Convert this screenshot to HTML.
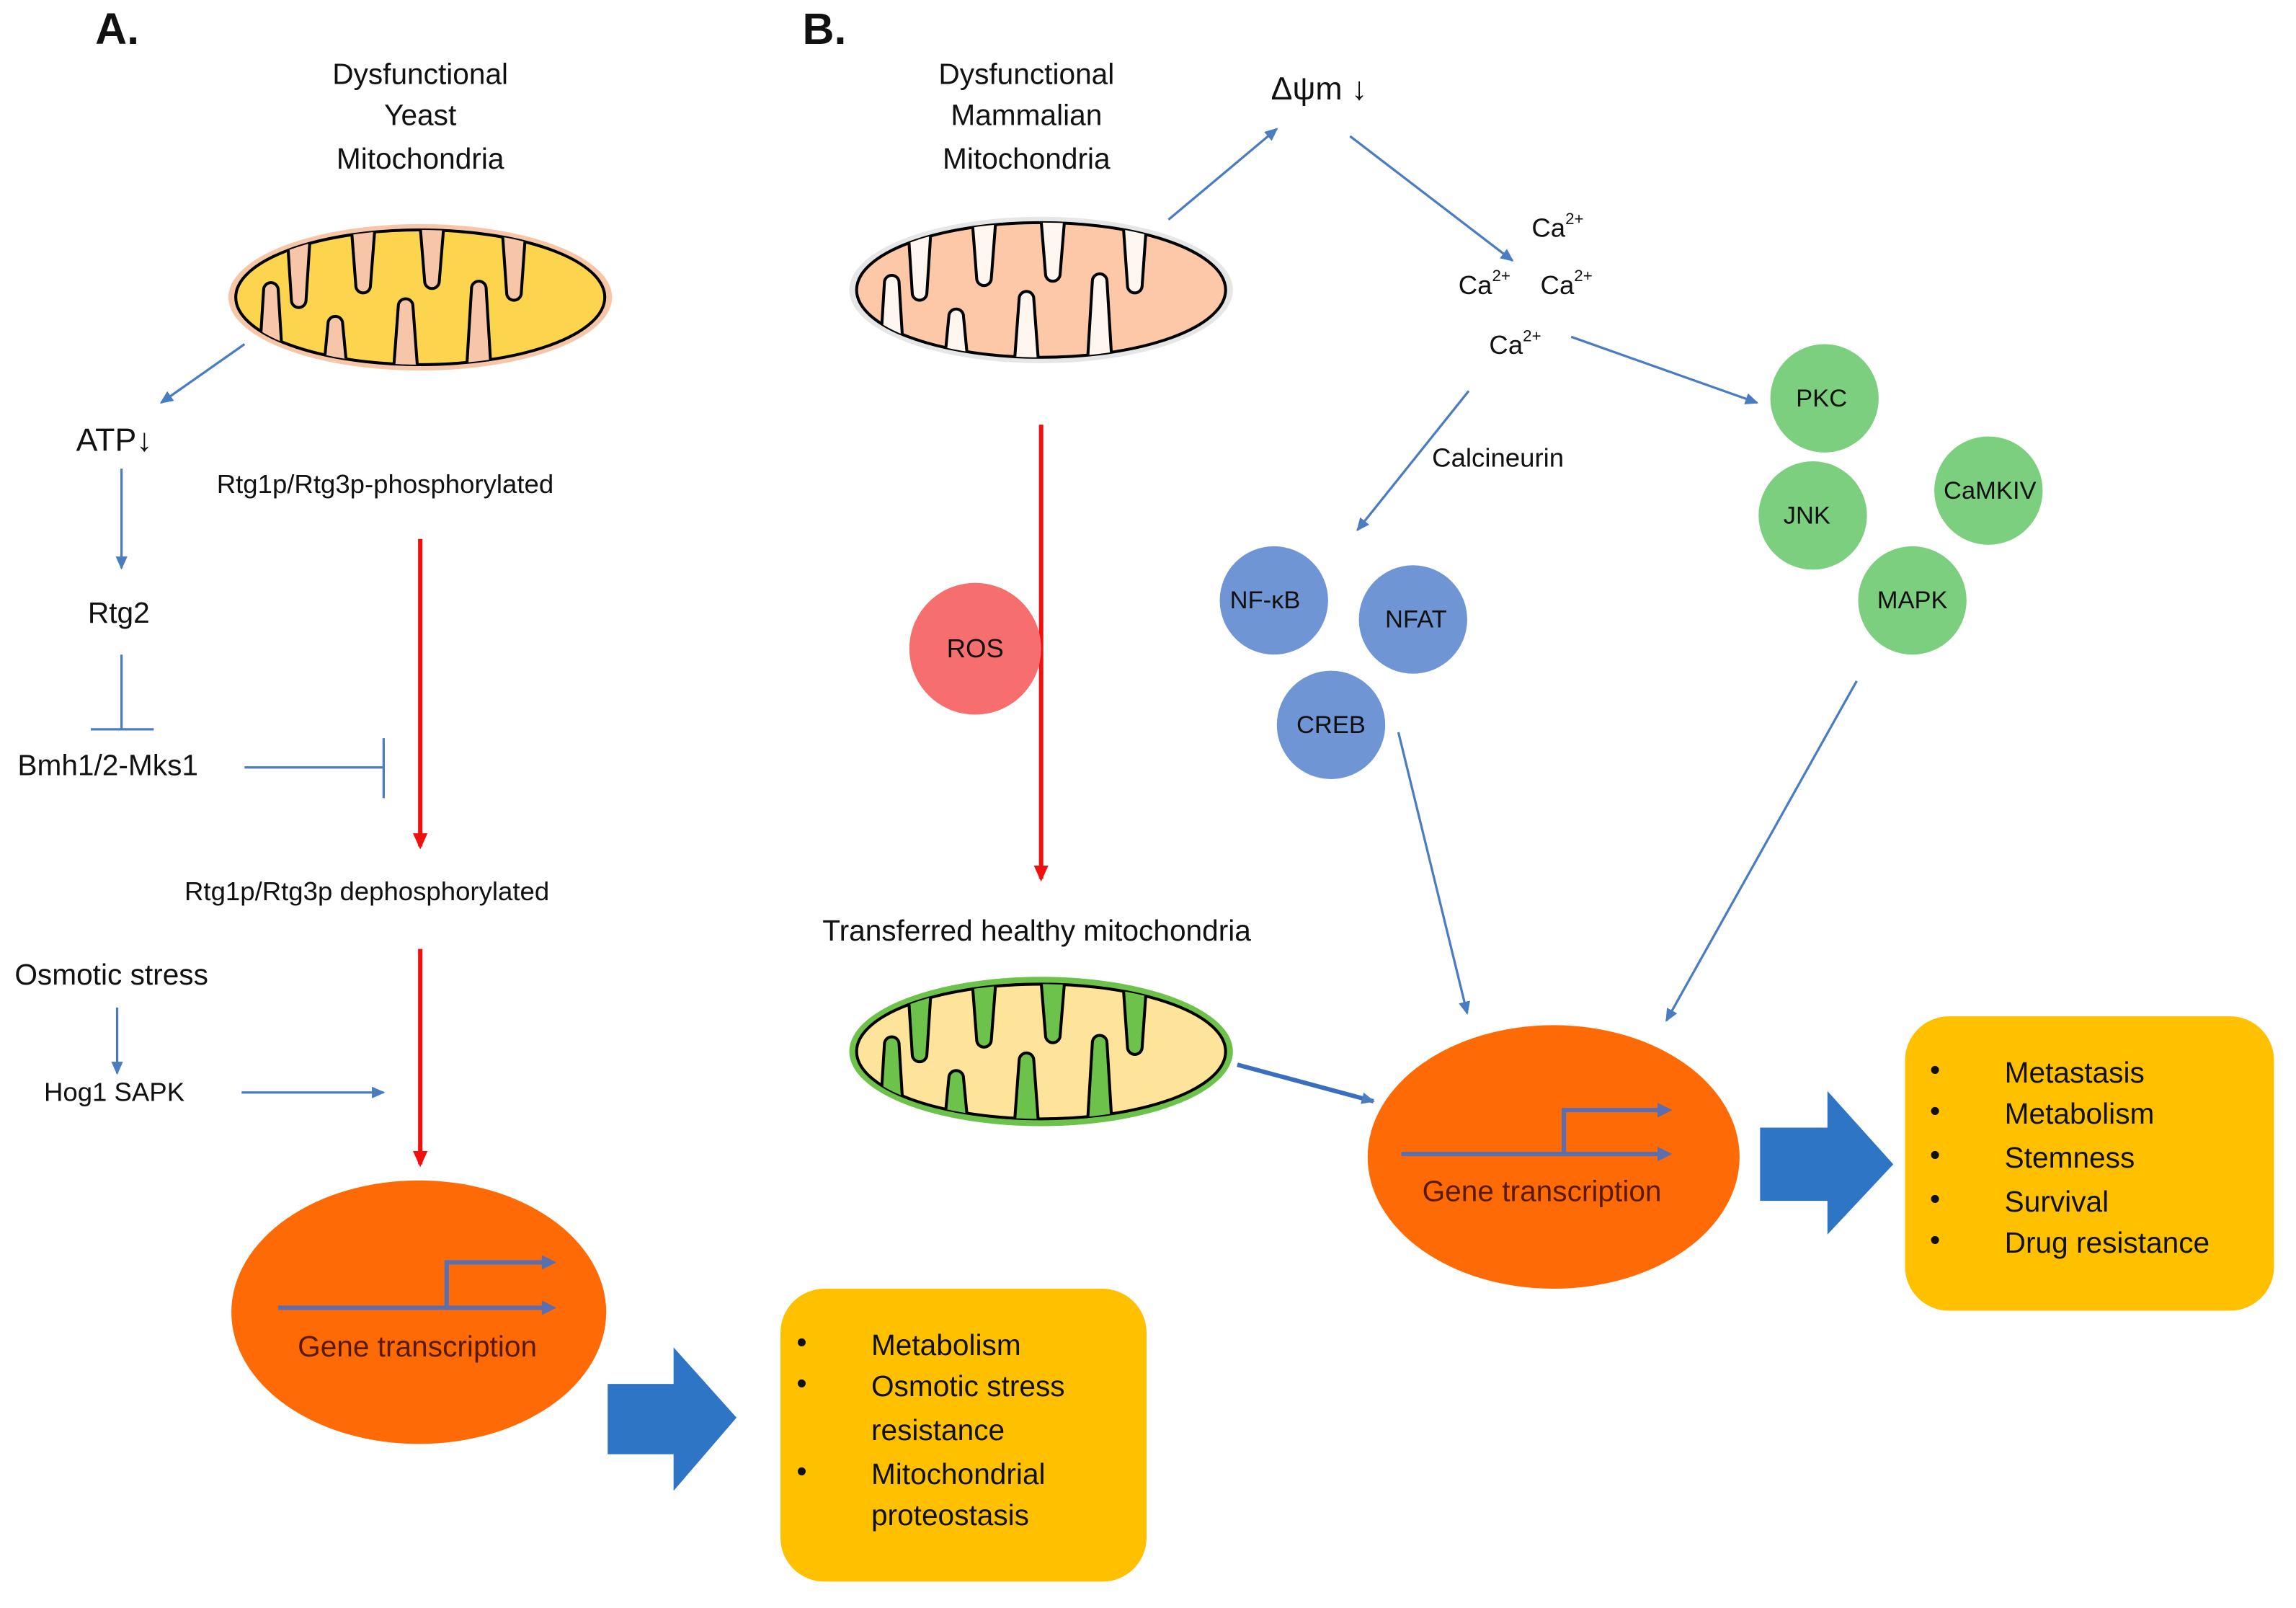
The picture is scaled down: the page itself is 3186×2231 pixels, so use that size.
<!DOCTYPE html>
<html><head><meta charset="utf-8"><style>
html,body{margin:0;padding:0;background:#fff}
svg{display:block}
text{font-family:"Liberation Sans",sans-serif;fill:#111;dominant-baseline:middle}
</style></head><body>
<svg width="3186" height="2231" viewBox="0 0 1568 1098" xmlns="http://www.w3.org/2000/svg">
<defs>
<marker id="ab" markerWidth="10" markerHeight="10" refX="8" refY="5" orient="auto" markerUnits="userSpaceOnUse"><path d="M0,1 L9,5 L0,9 z" fill="#4a7cc0"/></marker>
<marker id="ar" markerWidth="12" markerHeight="12" refX="9" refY="6" orient="auto" markerUnits="userSpaceOnUse"><path d="M0,1 L11,6 L0,11 z" fill="#f01010"/></marker>
<clipPath id="ic"><ellipse cx="0" cy="0" rx="126" ry="46"/></clipPath>
<g id="cr">
<path d="M-92,-60 L-88,2 a5,5 0 0 0 10,0 L-74,-60 z M-48,-60 L-44,-8 a5,5 0 0 0 10,0 L-30,-60 z M-1,-60 L3,-11 a5,5 0 0 0 10,0 L17,-60 z M55,-60 L59,-3 a5,5 0 0 0 10,0 L73,-60 z M-111,60 L-107,-5 a5,5 0 0 1 10,0 L-93,60 z M-67,60 L-63,18 a5,5 0 0 1 10,0 L-49,60 z M-19,60 L-15,6 a5,5 0 0 1 10,0 L-1,60 z M31,60 L35,-6 a5,5 0 0 1 10,0 L49,60 z"/>
</g>
</defs>

<!-- A -->
<text x="65" y="22" font-size="30" font-weight="bold">A.</text>
<text x="287" y="52" font-size="20" text-anchor="middle">Dysfunctional</text>
<text x="287" y="80" font-size="20" text-anchor="middle">Yeast</text>
<text x="287" y="110" font-size="20" text-anchor="middle">Mitochondria</text>

<g transform="translate(287,203)">
<ellipse rx="131" ry="50" fill="#f7c6a8"/>
<ellipse rx="126" ry="46" fill="#fdd44e" stroke="#000" stroke-width="2"/>
<g clip-path="url(#ic)"><use href="#cr" fill="#f7c6a8" stroke="#000" stroke-width="2"/></g>
</g>

<g stroke="#4a7cc0" stroke-width="1.6" fill="none">
<line x1="167" y1="235" x2="110" y2="275" marker-end="url(#ab)"/>
<line x1="83" y1="320" x2="83" y2="388" marker-end="url(#ab)"/>
<line x1="83" y1="447" x2="83" y2="498"/><line x1="62" y1="498" x2="105" y2="498"/>
<line x1="167" y1="524" x2="262" y2="524"/><line x1="262" y1="504" x2="262" y2="545"/>
<line x1="80" y1="688" x2="80" y2="733" marker-end="url(#ab)"/>
<line x1="165" y1="746" x2="262" y2="746" marker-end="url(#ab)"/>
</g>
<text x="52" y="302" font-size="22">ATP↓</text>
<text x="148" y="332" font-size="18">Rtg1p/Rtg3p-phosphorylated</text>
<text x="60" y="420" font-size="20">Rtg2</text>
<text x="12" y="524" font-size="20">Bmh1/2-Mks1</text>
<text x="126" y="610" font-size="18">Rtg1p/Rtg3p dephosphorylated</text>
<text x="10" y="667" font-size="20">Osmotic stress</text>
<text x="30" y="747" font-size="18">Hog1 SAPK</text>
<g stroke="#f01010" stroke-width="3">
<line x1="287" y1="368" x2="287" y2="578" marker-end="url(#ar)"/>
<line x1="287" y1="648" x2="287" y2="795" marker-end="url(#ar)"/>
</g>

<ellipse cx="286" cy="896" rx="128" ry="90" fill="#fe6a06"/>
<g stroke="#5b6fae" stroke-width="3" fill="none">
<line x1="190" y1="893" x2="372" y2="893"/>
<polyline points="305,893 305,862 372,862"/>
</g>
<path d="M370,888 L380,893 L370,898 z M370,857 L380,862 L370,867 z" fill="#5b6fae"/>
<text x="285" y="921" font-size="20" text-anchor="middle" style="fill:#5a1a00">Gene transcription</text>

<path d="M415,945 H460 V920 L503,968 L460,1018 V993 H415 z" fill="#2e75c6"/>
<rect x="533" y="880" width="250" height="200" rx="30" fill="#ffc000"/>
<g font-size="20">
<text x="544" y="918">•</text><text x="595" y="920">Metabolism</text>
<text x="544" y="946">•</text><text x="595" y="948">Osmotic stress</text>
<text x="595" y="978">resistance</text>
<text x="544" y="1006">•</text><text x="595" y="1008">Mitochondrial</text>
<text x="595" y="1036">proteostasis</text>
</g>

<!-- B -->
<text x="548" y="22" font-size="30" font-weight="bold">B.</text>
<text x="701" y="52" font-size="20" text-anchor="middle">Dysfunctional</text>
<text x="701" y="80" font-size="20" text-anchor="middle">Mammalian</text>
<text x="701" y="110" font-size="20" text-anchor="middle">Mitochondria</text>

<g transform="translate(711,198)">
<ellipse rx="131" ry="50" fill="#e6e6e6"/>
<ellipse rx="126" ry="46" fill="#fcc8a8" stroke="#000" stroke-width="2"/>
<g clip-path="url(#ic)"><use href="#cr" fill="#fff6f0" stroke="#000" stroke-width="2"/></g>
</g>

<g stroke="#4a7cc0" stroke-width="1.6" fill="none">
<line x1="798" y1="150" x2="872" y2="88" marker-end="url(#ab)"/>
<line x1="922" y1="93" x2="1033" y2="178" marker-end="url(#ab)"/>
<line x1="1073" y1="230" x2="1200" y2="275" marker-end="url(#ab)"/>
<line x1="1003" y1="267" x2="927" y2="362" marker-end="url(#ab)"/>
<line x1="955" y1="500" x2="1002" y2="692" marker-end="url(#ab)"/>
<line x1="1268" y1="465" x2="1138" y2="697" marker-end="url(#ab)"/>
</g>
<line x1="845" y1="727" x2="938" y2="752" stroke="#3a6fc0" stroke-width="3" marker-end="url(#ab)"/>
<text x="868" y="62" font-size="22">Δψm ↓</text>
<g font-size="18">
<text x="1046" y="157">Ca<tspan font-size="11" dy="-7">2+</tspan></text>
<text x="996" y="196">Ca<tspan font-size="11" dy="-7">2+</tspan></text>
<text x="1052" y="196">Ca<tspan font-size="11" dy="-7">2+</tspan></text>
<text x="1017" y="237">Ca<tspan font-size="11" dy="-7">2+</tspan></text>
</g>
<text x="978" y="314" font-size="18">Calcineurin</text>

<line x1="711" y1="290" x2="711" y2="600" stroke="#f01010" stroke-width="3" marker-end="url(#ar)"/>
<circle cx="666" cy="443" r="45" fill="#f76e6e"/>
<text x="666" y="444" font-size="18" text-anchor="middle">ROS</text>

<g fill="#6f95d4">
<circle cx="870" cy="410" r="37"/><circle cx="965" cy="423" r="37"/><circle cx="909" cy="495" r="37"/>
</g>
<g fill="#7ccf7e">
<circle cx="1246" cy="272" r="37"/><circle cx="1238" cy="352" r="37"/><circle cx="1358" cy="335" r="37"/><circle cx="1306" cy="410" r="37"/>
</g>
<g font-size="17" text-anchor="middle">
<text x="864" y="411">NF-κB</text><text x="967" y="424">NFAT</text><text x="909" y="496">CREB</text>
<text x="1244" y="273">PKC</text><text x="1234" y="353">JNK</text><text x="1359" y="336">CaMKIV</text><text x="1306" y="411">MAPK</text>
</g>

<text x="708" y="637" font-size="20" text-anchor="middle">Transferred healthy mitochondria</text>
<g transform="translate(711,718)">
<ellipse rx="131" ry="51" fill="#6cc24a"/>
<ellipse rx="126" ry="46" fill="#fee39b" stroke="#000" stroke-width="2"/>
<g clip-path="url(#ic)"><use href="#cr" fill="#6cc24a" stroke="#000" stroke-width="2"/></g>
</g>

<ellipse cx="1061" cy="790" rx="127" ry="90" fill="#fe6a06"/>
<g stroke="#5b6fae" stroke-width="3" fill="none">
<line x1="957" y1="788" x2="1134" y2="788"/>
<polyline points="1068,788 1068,758 1134,758"/>
</g>
<path d="M1132,783 L1142,788 L1132,793 z M1132,753 L1142,758 L1132,763 z" fill="#5b6fae"/>
<text x="1053" y="815" font-size="20" text-anchor="middle" style="fill:#5a1a00">Gene transcription</text>

<path d="M1202,770 H1248 V745 L1293,795 L1248,843 V820 H1202 z" fill="#2e75c6"/>
<rect x="1301" y="694" width="252" height="201" rx="30" fill="#ffc000"/>
<g font-size="20">
<text x="1318" y="732">•</text><text x="1369" y="734">Metastasis</text>
<text x="1318" y="760">•</text><text x="1369" y="762">Metabolism</text>
<text x="1318" y="790">•</text><text x="1369" y="792">Stemness</text>
<text x="1318" y="820">•</text><text x="1369" y="822">Survival</text>
<text x="1318" y="848">•</text><text x="1369" y="850">Drug resistance</text>
</g>
</svg>
</body></html>
